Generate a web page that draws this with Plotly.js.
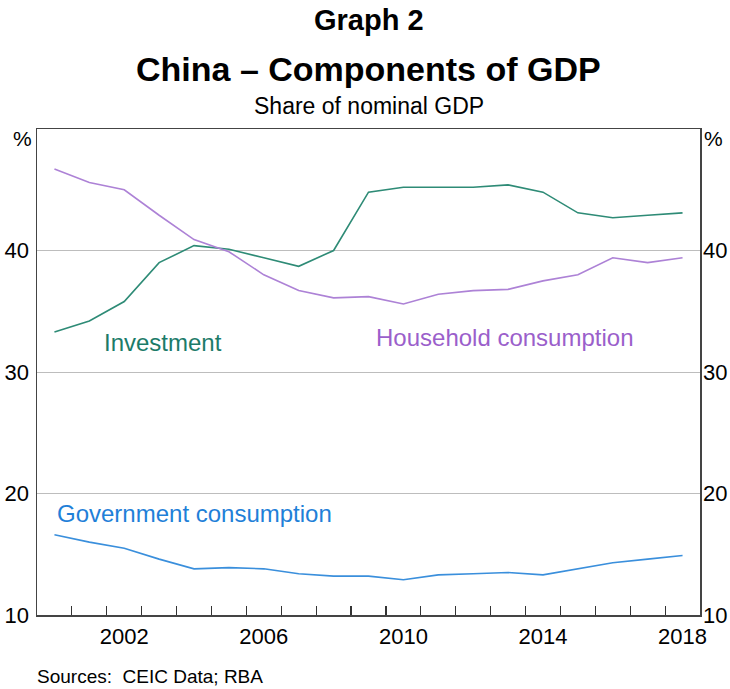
<!DOCTYPE html>
<html>
<head>
<meta charset="utf-8">
<script src="https://cdn.plot.ly/plotly-3.0.1.min.js"></script>
<style>html,body{margin:0;padding:0;background:#fff;}#chart{width:730px;height:689px;}</style>
</head>
<body>
<div id="chart"></div>
<script>
const years = [2000,2001,2002,2003,2004,2005,2006,2007,2008,2009,2010,2011,2012,2013,2014,2015,2016,2017,2018];
const investment = [33.3,34.2,35.8,39.0,40.4,40.1,39.4,38.7,40.0,44.8,45.2,45.2,45.2,45.4,44.8,43.1,42.7,42.9,43.1];
const household = [46.7,45.6,45.0,42.9,40.9,39.9,38.0,36.7,36.1,36.2,35.6,36.4,36.7,36.8,37.5,38.0,39.4,39.0,39.4];
const government = [16.6,16.0,15.5,14.6,13.8,13.9,13.8,13.4,13.2,13.2,12.9,13.3,13.4,13.5,13.3,13.8,14.3,14.6,14.9];
const xTickLabels = ['2002','2006','2010','2014','2018'];
const yTicks = [10,20,30,40];

const FONT = 'Arial, "Liberation Sans", sans-serif';
const xRange = [years[0]-0.5, years[years.length-1]+0.5];
const yRange = [10, 50];
const boundaries = years.slice(0, -1).map(y => y + 0.5);
const labelYears = xTickLabels.map(Number);

const traces = [
  {x: years, y: investment, type: 'scatter', mode: 'lines', line: {color: '#2e8b76', width: 1.6}, hoverinfo: 'skip'},
  {x: years, y: household, type: 'scatter', mode: 'lines', line: {color: '#ad82d6', width: 1.6}, hoverinfo: 'skip'},
  {x: years, y: government, type: 'scatter', mode: 'lines', line: {color: '#3a8fdc', width: 1.6}, hoverinfo: 'skip'},
  // helper trace so the overlay axes (bottom labels, right labels) are drawn
  {x: years, y: government, xaxis: 'x2', yaxis: 'y2', type: 'scatter', mode: 'lines', opacity: 0, line: {color: 'rgba(0,0,0,0)', width: 0}, hoverinfo: 'skip'}
];

const layout = {
  width: 730, height: 689,
  margin: {l: 37, r: 30, t: 129, b: 74},
  paper_bgcolor: '#fff', plot_bgcolor: '#fff',
  showlegend: false,
  font: {family: FONT, color: '#000'},
  xaxis: {
    range: xRange, tickmode: 'array', tickvals: boundaries, showticklabels: false,
    ticks: 'inside', ticklen: 9, tickwidth: 1.2, tickcolor: '#333',
    showline: true, mirror: true, linecolor: '#444', linewidth: 1.5,
    showgrid: false, zeroline: false, fixedrange: true
  },
  xaxis2: {
    overlaying: 'x', side: 'bottom', anchor: 'y', range: xRange, tickmode: 'array',
    tickvals: labelYears, ticktext: xTickLabels, ticks: '', showline: false,
    showgrid: false, zeroline: false, tickfont: {family: FONT, size: 22, color: '#000'},
    ticklabelstandoff: 6
  },
  yaxis: {
    range: yRange, tickmode: 'array', tickvals: yTicks, ticks: '',
    showline: true, mirror: true, linecolor: '#444', linewidth: 1.5,
    showgrid: true, gridcolor: '#bdbdbd', gridwidth: 1, zeroline: false,
    tickfont: {family: FONT, size: 22, color: '#000'}, ticklabelstandoff: 2
  },
  yaxis2: {
    overlaying: 'y', side: 'right', anchor: 'x', range: yRange, tickmode: 'array', tickvals: yTicks,
    ticks: '', showgrid: false, zeroline: false, showline: false,
    tickfont: {family: FONT, size: 22, color: '#000'}, ticklabelstandoff: 2
  },
  annotations: [
    {text: '<b>Graph 2</b>', xref: 'paper', yref: 'paper', x: 0.5, y: (615.5-20)/486.5, xanchor: 'center', yanchor: 'middle', showarrow: false, font: {family: FONT, size: 29, color: '#000'}},
    {text: '<b>China – Components of GDP</b>', xref: 'paper', yref: 'paper', x: 0.5, y: (615.5-69)/486.5, xanchor: 'center', yanchor: 'middle', showarrow: false, font: {family: FONT, size: 34, color: '#000'}},
    {text: 'Share of nominal GDP', xref: 'paper', yref: 'paper', x: 0.5, y: (615.5-106)/486.5, xanchor: 'center', yanchor: 'middle', showarrow: false, font: {family: FONT, size: 23, color: '#000'}},
    {text: '%', xref: 'paper', yref: 'paper', x: -0.022, y: (615.5-139)/486.5, xanchor: 'center', yanchor: 'middle', showarrow: false, font: {family: FONT, size: 21, color: '#000'}},
    {text: '%', xref: 'paper', yref: 'paper', x: 1.021, y: (615.5-139)/486.5, xanchor: 'center', yanchor: 'middle', showarrow: false, font: {family: FONT, size: 21, color: '#000'}},
    {text: 'Investment', xref: 'x', yref: 'y', x: 2003.12, y: 32.45, xanchor: 'center', yanchor: 'middle', showarrow: false, font: {family: FONT, size: 24, color: '#1c7b69'}},
    {text: 'Household consumption', xref: 'x', yref: 'y', x: 2012.9, y: 32.87, xanchor: 'center', yanchor: 'middle', showarrow: false, font: {family: FONT, size: 24, color: '#9b5fcb'}},
    {text: 'Government consumption', xref: 'x', yref: 'y', x: 2004.02, y: 18.33, xanchor: 'center', yanchor: 'middle', showarrow: false, font: {family: FONT, size: 24, color: '#1f80d8'}},
    {text: 'Sources:\u00a0\u00a0CEIC Data; RBA', xref: 'paper', yref: 'paper', x: (34.5-37)/663, y: (615.5-677)/486.5, xanchor: 'left', yanchor: 'middle', showarrow: false, font: {family: FONT, size: 19, color: '#000'}}
  ]
};

Plotly.newPlot('chart', traces, layout, {staticPlot: true, displayModeBar: false});
</script>
</body>
</html>
